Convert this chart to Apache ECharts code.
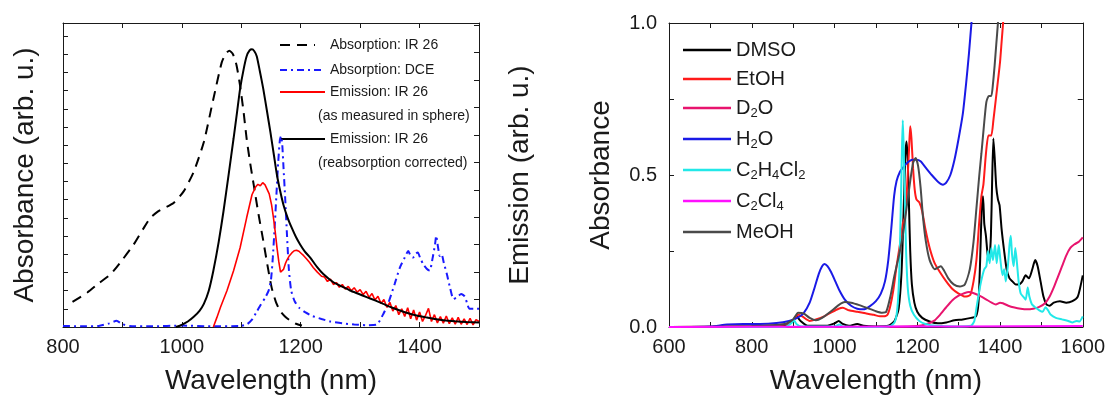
<!DOCTYPE html>
<html>
<head>
<meta charset="utf-8">
<script src="https://cdn.jsdelivr.net/npm/echarts@6/dist/echarts.min.js"></script>
<style>
html,body{margin:0;padding:0;background:#fff;}
#chart{width:1108px;height:400px;}
</style>
</head>
<body>
<div id="chart"></div>
<script>
// ---------------- Left panel data (wavelength nm, arbitrary units) ----------------
const leftXTicks = [800, 1000, 1200, 1400];
const absIR26 = [[816,0.69],[841,0.95],[860,1.2],[880,1.45],[900,1.85],[919,2.27],[935,2.7],[947,3.0],[960,3.18],[970,3.27],[986,3.41],[1003,3.73],[1020,4.27],[1037,5.09],[1053,6.27],[1067,7.27],[1074,7.52],[1080,7.6],[1086,7.5],[1092,7.2],[1098,6.63],[1104,5.9],[1109,5.18],[1115,4.5],[1121,3.9],[1129,3.1],[1137,2.37],[1144,1.7],[1151,1.09],[1158,0.7],[1165,0.45],[1174,0.28],[1182,0.18],[1192,0.09],[1202,0.04]];
const absDCE = [[800,0.03],[830,0.02],[860,0.03],[878,0.1],[890,0.17],[900,0.08],[912,0.03],[950,0.02],[1000,0.04],[1050,0.02],[1100,0.03],[1110,0.08],[1118,0.2],[1126,0.42],[1133,0.62],[1140,0.8],[1146,1.0],[1150,1.3],[1153,1.9],[1156,2.7],[1159,3.6],[1162,4.5],[1165,5.15],[1167,5.25],[1169,5.0],[1171,4.4],[1174,3.5],[1177,2.5],[1180,1.6],[1184,1.0],[1190,0.7],[1198,0.52],[1208,0.4],[1220,0.3],[1235,0.22],[1250,0.15],[1270,0.1],[1290,0.07],[1310,0.05],[1328,0.07],[1339,0.36],[1347,0.64],[1358,1.18],[1367,1.64],[1375,1.91],[1381,2.09],[1385,1.95],[1389,1.91],[1394,2.02],[1397,2.05],[1401,1.9],[1406,1.73],[1412,1.6],[1417,1.55],[1422,1.9],[1426,2.27],[1428,2.51],[1431,2.2],[1434,1.95],[1437,2.0],[1441,1.75],[1446,1.45],[1451,1.1],[1457,0.77],[1463,0.82],[1470,0.91],[1476,0.84],[1480,0.65],[1484,0.5],[1492,0.5],[1500,0.5]];
const emMeasured = [[1053,0],[1059,0.35],[1065,0.72],[1076,1.33],[1087,2.05],[1098,2.89],[1109,3.98],[1118,4.82],[1124,5.1],[1128,5.2],[1132,5.15],[1136,5.26],[1140,5.18],[1143,5.12],[1147,4.85],[1151,4.45],[1154,4.0],[1157,3.49],[1160,2.9],[1163,2.4],[1166,2.0],[1168,1.93],[1171,2.1],[1174,2.3],[1177,2.45],[1181,2.6],[1185,2.7],[1189,2.78],[1193,2.8],[1197,2.76],[1201,2.68],[1205,2.6],[1210,2.48],[1215,2.35],[1221,2.17],[1228,2.0],[1235,1.85],
  [1240,1.82],[1245,1.66],[1250,1.74],[1255,1.55],[1260,1.62],[1265,1.45],[1270,1.55],[1275,1.38],[1280,1.48],[1285,1.32],[1290,1.43],[1295,1.27],[1300,1.36],[1305,1.18],[1310,1.3],[1315,1.08],[1320,1.22],[1325,0.98],[1330,1.12],[1335,0.86],[1340,1.0],[1345,0.72],[1350,0.9],[1355,0.58],[1360,0.78],[1365,0.45],[1370,0.66],[1375,0.38],[1380,0.7],[1385,0.3],[1390,0.62],[1395,0.25],[1400,0.55],[1405,0.2],[1410,0.42],[1415,0.68],[1420,0.2],[1425,0.45],[1430,0.15],[1435,0.38],[1440,0.14],[1445,0.4],[1450,0.12],[1455,0.33],[1460,0.1],[1465,0.35],[1470,0.1],[1475,0.3],[1480,0.09],[1485,0.32],[1490,0.08],[1495,0.27],[1500,0.2]];
const emCorrected = [[990,0],[998,0.06],[1010,0.2],[1020,0.37],[1030,0.6],[1037,0.84],[1045,1.3],[1053,2.05],[1062,3.1],[1070,4.21],[1079,5.6],[1087,6.87],[1093,7.85],[1098,8.68],[1104,9.4],[1109,9.87],[1114,10.08],[1118,10.12],[1122,10.05],[1126,9.87],[1131,9.35],[1137,8.68],[1143,7.9],[1149,7.1],[1155,6.25],[1160,5.54],[1166,4.9],[1171,4.45],[1178,3.98],[1185,3.61],[1192,3.28],[1199,3.01],[1207,2.75],[1216,2.53],[1227,2.2],[1238,1.93],[1255,1.63],[1270,1.47],[1283,1.33],[1297,1.21],[1311,1.09],[1325,0.97],[1339,0.84],[1353,0.71],[1367,0.6],[1381,0.5],[1395,0.42],[1409,0.36],[1423,0.3],[1440,0.25],[1460,0.21],[1479,0.18],[1500,0.16]];
const leftLegend = [
  ['Absorption: IR 26', ''],
  ['Absorption: DCE', ''],
  ['Emission: IR 26', '(as measured in sphere)'],
  ['Emission: IR 26', '(reabsorption corrected)']
];

// ---------------- Right panel data (wavelength nm, absorbance) ----------------
const rightNames = ['DMSO', 'EtOH', 'D2O', 'H2O', 'C2H4Cl2', 'C2Cl4', 'MeOH'];
const rightLabels = {
  'DMSO': '{n|DMSO}',
  'EtOH': '{n|EtOH}',
  'D2O': '{n|D}{s|2}{n|O}',
  'H2O': '{n|H}{s|2}{n|O}',
  'C2H4Cl2': '{n|C}{s|2}{n|H}{s|4}{n|Cl}{s|2}',
  'C2Cl4': '{n|C}{s|2}{n|Cl}{s|4}',
  'MeOH': '{n|MeOH}'
};
const dmso = [[600,0],[700,0],[800,0.002],[880,0.005],[898,0.02],[908,0.035],[918,0.02],[935,0.004],[980,0.004],[1000,0.012],[1010,0.02],[1020,0.01],[1035,0.004],[1055,0.01],[1070,0.004],[1100,0.002],[1130,0.004],[1145,0.02],[1155,0.06],[1162,0.18],[1167,0.38],[1171,0.56],[1174,0.61],[1177,0.55],[1180,0.4],[1183,0.25],[1187,0.14],[1193,0.08],[1200,0.05],[1212,0.03],[1230,0.018],[1250,0.012],[1270,0.015],[1290,0.022],[1310,0.025],[1330,0.03],[1342,0.035],[1348,0.08],[1352,0.22],[1356,0.4],[1359,0.43],[1362,0.34],[1366,0.3],[1370,0.24],[1374,0.22],[1378,0.3],[1381,0.48],[1384,0.62],[1387,0.56],[1391,0.46],[1395,0.42],[1399,0.4],[1404,0.32],[1410,0.25],[1416,0.19],[1423,0.16],[1430,0.15],[1438,0.14],[1446,0.14],[1454,0.15],[1462,0.17],[1470,0.16],[1478,0.19],[1485,0.22],[1491,0.2],[1498,0.15],[1505,0.1],[1512,0.075],[1520,0.07],[1530,0.08],[1545,0.085],[1560,0.08],[1575,0.085],[1588,0.1],[1600,0.17]];
const etoh = [[600,0],[800,0.002],[880,0.008],[900,0.02],[912,0.04],[922,0.035],[940,0.02],[955,0.025],[975,0.035],[995,0.05],[1010,0.06],[1020,0.063],[1035,0.055],[1055,0.05],[1075,0.045],[1095,0.04],[1110,0.035],[1120,0.035],[1128,0.04],[1135,0.07],[1142,0.12],[1150,0.2],[1158,0.27],[1165,0.34],[1170,0.36],[1175,0.45],[1180,0.58],[1183,0.66],[1186,0.62],[1190,0.52],[1194,0.45],[1198,0.42],[1205,0.41],[1212,0.38],[1220,0.32],[1230,0.26],[1242,0.21],[1255,0.18],[1270,0.15],[1285,0.125],[1300,0.11],[1315,0.1],[1328,0.105],[1336,0.15],[1343,0.22],[1350,0.35],[1355,0.43],[1360,0.47],[1366,0.57],[1372,0.63],[1379,0.63],[1384,0.68],[1390,0.75],[1395,0.81],[1400,0.87],[1404,0.94],[1408,1.01],[1412,1.1]];
const d2o = [[600,0],[1100,0],[1200,0.003],[1220,0.008],[1240,0.02],[1255,0.04],[1270,0.065],[1285,0.088],[1300,0.103],[1315,0.112],[1325,0.115],[1335,0.112],[1350,0.103],[1365,0.092],[1380,0.08],[1390,0.074],[1400,0.08],[1407,0.078],[1420,0.07],[1435,0.064],[1450,0.06],[1465,0.058],[1480,0.06],[1495,0.066],[1510,0.08],[1520,0.1],[1530,0.13],[1540,0.165],[1550,0.2],[1560,0.235],[1570,0.26],[1580,0.272],[1590,0.28],[1600,0.295]];
const h2o = [[600,0],[700,0.002],[740,0.008],[780,0.01],[820,0.01],[860,0.013],[890,0.02],[910,0.03],[925,0.045],[940,0.08],[952,0.13],[962,0.175],[970,0.2],[976,0.207],[983,0.2],[992,0.18],[1002,0.15],[1012,0.12],[1025,0.09],[1040,0.07],[1055,0.06],[1070,0.058],[1085,0.068],[1100,0.085],[1112,0.11],[1122,0.15],[1130,0.22],[1137,0.32],[1144,0.43],[1150,0.48],[1158,0.51],[1166,0.525],[1176,0.54],[1188,0.55],[1198,0.55],[1208,0.545],[1220,0.525],[1235,0.5],[1250,0.478],[1262,0.468],[1270,0.475],[1280,0.5],[1290,0.55],[1300,0.62],[1310,0.7],[1318,0.8],[1325,0.9],[1331,1.0],[1336,1.08]];
const c2h4cl2 = [[600,0],[880,0],[895,0.012],[902,0.022],[908,0.01],[920,0.002],[1000,0.002],[1012,0.008],[1020,0.002],[1100,0],[1135,0.003],[1145,0.015],[1150,0.04],[1154,0.1],[1157,0.2],[1160,0.38],[1163,0.58],[1165,0.68],[1167,0.6],[1170,0.42],[1173,0.25],[1177,0.13],[1183,0.07],[1192,0.04],[1205,0.02],[1220,0.01],[1245,0.004],[1300,0.002],[1330,0.004],[1338,0.02],[1344,0.07],[1350,0.12],[1356,0.16],[1362,0.19],[1367,0.2],[1371,0.25],[1375,0.21],[1379,0.26],[1383,0.22],[1388,0.27],[1392,0.21],[1397,0.27],[1401,0.22],[1406,0.17],[1410,0.19],[1414,0.15],[1419,0.2],[1423,0.27],[1426,0.3],[1429,0.24],[1433,0.2],[1437,0.26],[1441,0.21],[1445,0.15],[1450,0.11],[1456,0.1],[1462,0.09],[1467,0.13],[1471,0.1],[1477,0.075],[1485,0.065],[1495,0.055],[1503,0.05],[1510,0.065],[1516,0.055],[1523,0.04],[1535,0.03],[1550,0.025],[1565,0.02],[1575,0.015],[1585,0.02],[1592,0.018],[1600,0.035]];
const c2cl4 = [[600,0],[1000,0.001],[1300,0.002],[1600,0.003]];
const meoh = [[600,0],[800,0.003],[880,0.01],[900,0.025],[912,0.047],[925,0.045],[940,0.03],[955,0.022],[970,0.03],[990,0.05],[1010,0.072],[1025,0.082],[1040,0.08],[1060,0.072],[1080,0.062],[1100,0.052],[1115,0.047],[1125,0.05],[1135,0.1],[1145,0.17],[1155,0.23],[1165,0.3],[1175,0.4],[1183,0.48],[1190,0.54],[1196,0.556],[1202,0.53],[1208,0.46],[1214,0.36],[1221,0.28],[1230,0.22],[1242,0.19],[1250,0.195],[1257,0.2],[1265,0.185],[1275,0.16],[1288,0.14],[1303,0.133],[1315,0.14],[1327,0.19],[1336,0.28],[1343,0.39],[1350,0.5],[1355,0.57],[1361,0.66],[1367,0.74],[1373,0.76],[1379,0.76],[1383,0.8],[1387,0.86],[1391,0.93],[1395,1.0],[1399,1.1]];
const rightColors = {DMSO:'#000000', EtOH:'#ff1a1a', D2O:'#e8146e', H2O:'#1a1ae6', C2H4Cl2:'#22e8e8', C2Cl4:'#ff10ff', MeOH:'#4a4a4a'};

// ---------------- Chart ----------------
const FONT = '"Liberation Sans", Arial, sans-serif';
const AX = '#1a1a1a';

function xAxisDef(grid, pos, min, max, showLabels, name) {
  return {
    type: 'value', gridIndex: grid, position: pos, min: min, max: max, interval: 100,
    axisLine: {show: true, onZero: false, lineStyle: {color: AX, width: 1}},
    axisTick: {show: true, inside: true, length: 5, lineStyle: {color: AX}},
    splitLine: {show: false},
    axisLabel: {show: showLabels, margin: 10, fontSize: 20, fontFamily: FONT, color: '#1a1a1a',
      showMaxLabel: true,
      formatter: v => (v % 200 === 0 ? String(v) : '')},
    name: name || '', nameLocation: 'middle', nameGap: 40,
    nameTextStyle: {fontSize: 28, fontFamily: FONT, color: '#1a1a1a'}
  };
}
function yAxisDef(grid, pos, min, max, interval, labelFmt, name, nameGap) {
  return {
    type: 'value', gridIndex: grid, position: pos, min: min, max: max, interval: interval,
    axisLine: {show: true, onZero: false, lineStyle: {color: AX, width: 1}},
    axisTick: {show: true, inside: true, length: 5, lineStyle: {color: AX}},
    splitLine: {show: false},
    axisLabel: {show: !!labelFmt, margin: 12, fontSize: 20, fontFamily: FONT, color: '#1a1a1a', formatter: labelFmt || undefined},
    name: name || '', nameLocation: 'middle', nameGap: nameGap || 20, nameRotate: 90,
    nameTextStyle: {fontSize: 28, fontFamily: FONT, color: '#1a1a1a'}
  };
}

function lineSeries(name, data, xi, yi, color, width, type, z) {
  return {
    name: name, type: 'line', data: data, xAxisIndex: xi, yAxisIndex: yi,
    symbol: 'none', showSymbol: false, smooth: 0.2, clip: true, z: z || 2,
    lineStyle: {color: color, width: width, type: type || 'solid'},
    itemStyle: {color: color}
  };
}

const legendGraphics = [];
const legendStyles = [
  {stroke: '#000', dash: [10, 7], y: 45},
  {stroke: '#1a1aff', dash: [7, 4, 2, 4], y: 70},
  {stroke: '#ff0000', dash: null, y: 92},
  {stroke: '#000', dash: null, y: 139}
];
leftLegend.forEach((item, i) => {
  const st = legendStyles[i];
  legendGraphics.push({
    type: 'line', silent: true,
    shape: {x1: 280, y1: st.y, x2: i < 1 ? 315 : 325, y2: st.y},
    style: {stroke: st.stroke, lineWidth: 2, lineDash: st.dash || null}
  });
  legendGraphics.push({
    type: 'text', silent: true, x: 330, y: st.y,
    style: {text: item[0], font: '14px ' + FONT, fill: '#1a1a1a', verticalAlign: 'middle', textVerticalAlign: 'middle'}
  });
  if (item[1]) {
    legendGraphics.push({
      type: 'text', silent: true, x: 318, y: st.y + 24,
      style: {text: item[1], font: '14px ' + FONT, fill: '#1a1a1a', verticalAlign: 'middle', textVerticalAlign: 'middle'}
    });
  }
});

const series = [
  lineSeries('Absorption: IR 26', absIR26, 0, 0, '#000000', 2, [10, 7], 3),
  lineSeries('Absorption: DCE', absDCE, 0, 0, '#1a1aff', 2, [7, 4, 2, 4], 3),
  Object.assign(lineSeries('Emission: IR 26 (as measured in sphere)', emMeasured, 0, 1, '#ff0000', 1.6, 'solid', 3), {smooth: false}),
  lineSeries('Emission: IR 26 (reabsorption corrected)', emCorrected, 0, 1, '#000000', 2, 'solid', 4)
];
const rightData = {DMSO: dmso, EtOH: etoh, D2O: d2o, H2O: h2o, C2H4Cl2: c2h4cl2, C2Cl4: c2cl4, MeOH: meoh};
rightNames.forEach(n => {
  series.push(lineSeries(n, rightData[n], 2, 2, rightColors[n], 2, 'solid', n === 'C2Cl4' ? 5 : 3));
});

const option = {
  animation: false,
  backgroundColor: '#ffffff',
  textStyle: {fontFamily: FONT},
  grid: [
    {left: 63, right: 629, top: 23, bottom: 69, containLabel: false},
    {left: 669, right: 25, top: 23, bottom: 71, containLabel: false}
  ],
  xAxis: [
    xAxisDef(0, 'bottom', 800, 1500, true, 'Wavelength (nm)'),
    xAxisDef(0, 'top', 800, 1500, false, ''),
    xAxisDef(1, 'bottom', 600, 1600, true, 'Wavelength (nm)'),
    xAxisDef(1, 'top', 600, 1600, false, '')
  ],
  yAxis: [
    yAxisDef(0, 'left', 0, 8.36, 0.5, null, 'Absorbance (arb. u.)', 24),
    yAxisDef(0, 'right', 0, 11.08, 1, null, 'Emission (arb. u.)', 27),
    yAxisDef(1, 'left', 0, 1, 0.25, v => (Math.abs(v % 0.5) < 1e-9 ? v.toFixed(1) : ''), 'Absorbance', 54),
    yAxisDef(1, 'right', 0, 1, 0.25, null, '', 10)
  ],
  legend: [{
    data: rightNames,
    orient: 'vertical', left: 683, top: 40, padding: 0,
    icon: 'rect',
    itemWidth: 48, itemHeight: 2.5, itemGap: 9,
    selectedMode: false,
    textStyle: {fontSize: 20, fontFamily: FONT, color: '#1a1a1a',
      rich: {
        n: {fontSize: 20, lineHeight: 24, fontFamily: FONT, color: '#1a1a1a'},
        s: {fontSize: 13, lineHeight: 13, verticalAlign: 'bottom', fontFamily: FONT, color: '#1a1a1a'}
      }},
    formatter: name => rightLabels[name]
  }],
  graphic: legendGraphics,
  series: series
};

const chart = echarts.init(document.getElementById('chart'), null, {renderer: 'canvas'});
chart.setOption(option);
</script>
</body>
</html>
